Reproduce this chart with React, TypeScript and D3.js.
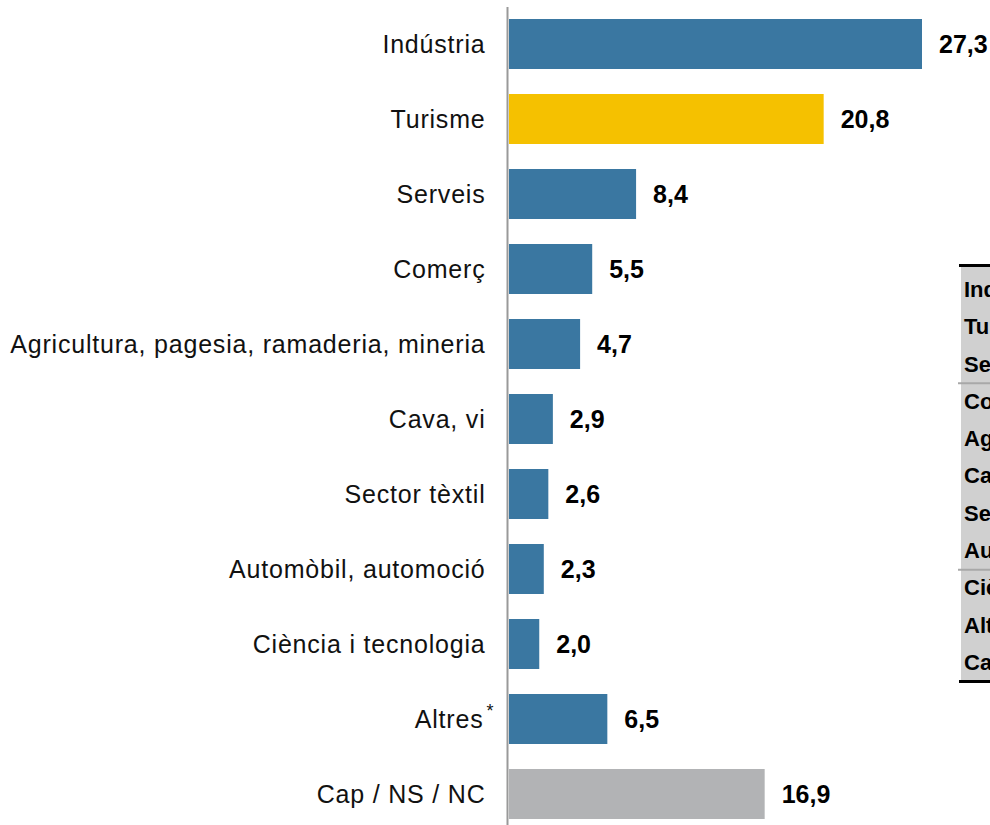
import React from "react";
import * as d3 from "d3";

const categories = [
  "Indústria",
  "Turisme",
  "Serveis",
  "Comerç",
  "Agricultura, pagesia, ramaderia, mineria",
  "Cava, vi",
  "Sector tèxtil",
  "Automòbil, automoció",
  "Ciència i tecnologia",
  "Altres",
  "Cap / NS / NC",
];
const values = [27.3, 20.8, 8.4, 5.5, 4.7, 2.9, 2.6, 2.3, 2.0, 6.5, 16.9];
const barKinds = ["main", "highlight", "main", "main", "main", "main", "main", "main", "main", "main", "none"];
const tableRows = [
  "Indústria",
  "Turisme",
  "Serveis",
  "Comerç",
  "Agricultura",
  "Cava",
  "Sector tèxtil",
  "Automòbil",
  "Ciència",
  "Altres",
  "Cap / NS / NC",
];
const tableSeparatorsAfter = [2, 7];

const W = 990;
const H = 825;
const FONT = "'Liberation Sans', Arial, Helvetica, sans-serif";
const colors: Record<string, string> = { main: "#3A77A1", highlight: "#F5C100", none: "#B2B3B5" };

export default function App() {
  const x0 = 509;
  const x = d3.scaleLinear().domain([0, 27.3]).range([x0, 922]);
  const y = d3.scaleBand<string>().domain(categories).range([6.5, 831.5]).paddingInner(1 / 3).paddingOuter(1 / 6);
  const ty = d3.scalePoint<string>().domain(tableRows).range([289, 662]);
  const fmt = (v: number) => d3.format(".1f")(v).replace(".", ",");
  const step = ty.step();

  return (
    <svg width={W} height={H} style={{ position: "absolute", left: 0, top: 0, background: "#fff" }} fontFamily={FONT}>
      <g>
        <rect x={961} y={266} width={40} height={414} fill="#D0D0D0" />
        <line x1={959} x2={W} y1={265.5} y2={265.5} stroke="#000" strokeWidth={3} />
        <line x1={959} x2={W} y1={681.5} y2={681.5} stroke="#000" strokeWidth={3} />
        {tableSeparatorsAfter.map((i) => {
          const yy = (ty(tableRows[i]) as number) + step / 2 + 1;
          return <line key={i} x1={958} x2={W} y1={yy} y2={yy} stroke="#A8A8A8" strokeWidth={2} />;
        })}
        {tableRows.map((r) => (
          <text key={r} x={964} y={ty(r) as number} dy="0.36em" fontSize={22} fontWeight="bold" fill="#000">
            {r}
          </text>
        ))}
      </g>
      {categories.map((c, i) => {
        const yy = y(c) as number;
        const bw = y.bandwidth();
        const isAltres = c === "Altres";
        return (
          <g key={c}>
            <rect x={x0} y={yy} width={x(values[i]) - x0} height={bw} fill={colors[barKinds[i]]} />
            <text
              x={isAltres ? 483.5 : 485.5}
              y={yy + bw / 2}
              dy="0.36em"
              textAnchor="end"
              fontSize={25}
              letterSpacing={0.8}
              fill="#111"
            >
              {c}
            </text>
            {isAltres && (
              <text x={490} y={yy + bw / 2 - 2} textAnchor="middle" fontSize={18} fill="#111">
                *
              </text>
            )}
            <text x={x(values[i]) + 17} y={yy + bw / 2} dy="0.36em" fontSize={25} fontWeight="bold" fill="#000">
              {fmt(values[i])}
            </text>
          </g>
        );
      })}
      <line x1={507.5} x2={507.5} y1={7} y2={H} stroke="#999" strokeWidth={2} />
    </svg>
  );
}
